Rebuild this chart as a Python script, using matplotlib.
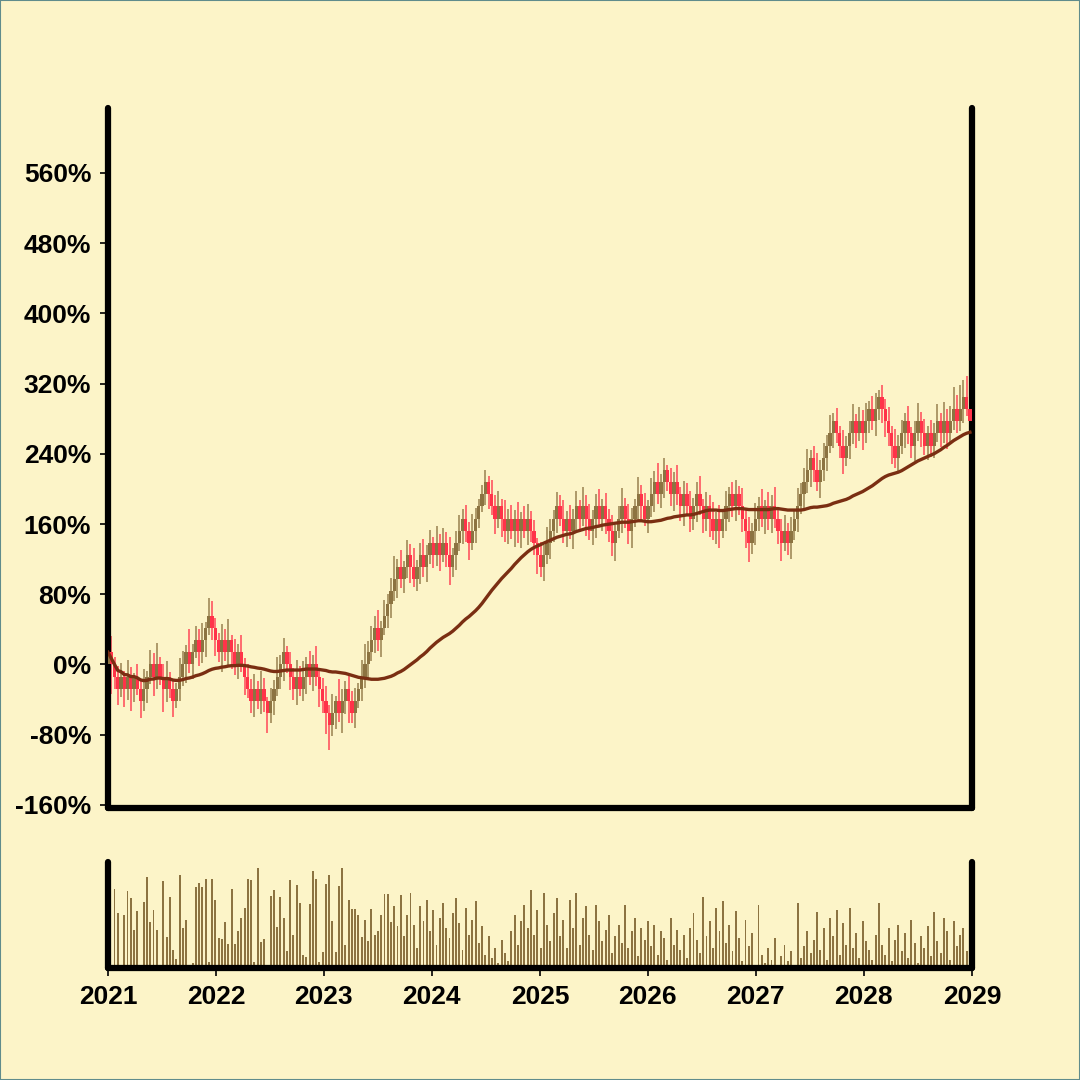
import matplotlib
matplotlib.use("Agg")
import matplotlib.pyplot as plt
import matplotlib.dates as mdates
from matplotlib.patches import Rectangle
import numpy as np
import pandas as pd

# ---------------------------------------------------------------------------
# DATA
# ---------------------------------------------------------------------------
BRICK = 13.85          # height of one candle body, in %
MA_WINDOW = 50

# close level of each candle, counted in bodies above the start
levels = [
    1, 0, -1, -2, -1, -2, -1, -2, -1, -2, -3, -2, -1, 0, -1, 0, -1, -2, -1, -2,
    -3, -2, -1, 0, 1, 0, 1, 2, 1, 2, 3, 4, 3, 2, 1, 2, 1, 2, 1, 0,
    1, 0, -1, -2, -3, -2, -3, -2, -3, -4, -3, -2, -1, 0, 1, 0, -1, -2, -1, -2,
    -1, 0, -1, 0, -1, -2, -3, -4, -5, -4, -3, -4, -3, -2, -3, -4, -3, -2, -1, 0,
    1, 2, 3, 2, 3, 4, 5, 6, 7, 8, 7, 8, 9, 8, 7, 8, 9, 8, 9, 10,
    9, 10, 9, 10, 9, 8, 9, 10, 11, 12, 11, 10, 11, 12, 13, 14, 15, 14, 13, 12,
    13, 12, 11, 12, 11, 12, 11, 12, 11, 12, 11, 10, 9, 8, 9, 10, 11, 12, 13, 12,
    11, 12, 11, 12, 13, 12, 13, 12, 11, 12, 13, 12, 13, 12, 11, 10, 11, 12, 13, 12,
    11, 12, 13, 14, 13, 12, 13, 14, 15, 14, 15, 16, 15, 14, 15, 14, 13, 14, 13, 12,
    13, 14, 13, 12, 13, 12, 11, 12, 11, 12, 13, 14, 13, 14, 13, 12, 11, 10, 11, 12,
    13, 12, 13, 12, 13, 12, 11, 10, 11, 10, 11, 12, 13, 14, 15, 16, 17, 16, 15, 16,
    17, 18, 19, 20, 19, 18, 17, 18, 19, 20, 19, 20, 19, 20, 21, 20, 21, 22, 21, 20,
    19, 18, 17, 18, 19, 20, 19, 18, 19, 20, 19, 18, 19, 18, 19, 20, 19, 20, 19, 20,
    21, 20, 21, 22, 21, 20,
]

# wick length beyond the body, in bodies
upper_wick = [
    0.4, 1.3, 0.6, 0.9, 1.1, 0.5, 1.4, 0.8, 0.3, 1.0, 0.7, 1.6, 0.5, 1.2, 0.9, 1.8, 0.6, 1.0, 1.3, 0.4,
    0.8, 0.5, 1.5, 1.1, 0.6, 1.9, 0.7, 1.2, 0.9, 1.4, 0.5, 1.5, 1.2, 0.8, 0.6, 1.3, 0.9, 1.7, 0.4, 1.1,
    0.7, 1.4, 0.5, 1.0, 0.8, 1.2, 0.6, 1.5, 0.9, 0.3, 1.1, 0.7, 1.6, 0.8, 1.2, 0.5, 1.0, 0.7, 1.4, 0.9,
    1.3, 0.6, 1.1, 0.8, 1.5, 0.5, 0.9, 1.2, 0.7, 1.6, 0.4, 1.8, 1.0, 0.6, 1.3, 0.8, 1.1, 0.5, 1.4, 1.7,
    0.9, 1.2, 1.0, 1.5, 0.6, 1.3, 0.8, 1.1, 1.9, 0.7, 1.4, 0.5, 1.2, 0.9, 1.6, 0.6, 1.0, 1.3, 0.8, 1.1,
    0.5, 1.4, 0.7, 1.2, 0.9, 1.5, 0.6, 1.0, 1.3, 0.8, 1.1, 0.7, 1.4, 0.9, 0.6, 0.8, 1.0, 0.5, 1.2, 0.9,
    1.3, 0.6, 1.5, 0.8, 1.1, 0.7, 1.4, 0.5, 1.0, 1.2, 0.6, 0.9, 0.4, 1.1, 0.8, 1.3, 1.0, 0.7, 1.2, 0.9,
    1.5, 0.6, 1.1, 0.8, 1.3, 0.5, 1.6, 0.9, 1.2, 0.7, 1.0, 1.4, 0.6, 1.1, 0.8, 1.3, 0.5, 1.0, 1.5, 0.7,
    1.2, 0.9, 0.6, 1.4, 0.8, 1.1, 0.5, 1.3, 0.9, 1.6, 0.7, 1.0, 0.4, 1.2, 0.8, 1.4, 0.6, 1.1, 0.9, 1.3,
    0.7, 1.0, 1.5, 0.6, 1.2, 0.9, 1.4, 0.5, 1.1, 0.8, 1.3, 0.6, 1.0, 1.2, 0.7, 1.5, 0.9, 1.1, 0.6, 1.3,
    0.8, 1.4, 0.5, 1.2, 0.9, 1.6, 0.7, 1.0, 1.3, 0.6, 1.1, 0.8, 1.5, 0.9, 1.2, 1.7, 0.6, 1.0, 1.4, 0.8,
    1.2, 0.9, 1.5, 0.7, 1.1, 0.6, 1.3, 0.8, 1.0, 1.4, 0.6, 1.2, 0.9, 1.5, 0.7, 1.1, 1.3, 0.6, 1.0, 0.8,
    1.2, 0.6, 1.4, 0.9, 1.1, 0.7, 1.3, 0.5, 1.0, 1.5, 0.8, 1.2, 0.6, 1.1, 0.9, 1.4, 0.7, 1.6, 1.0, 1.3,
    1.8, 1.2, 2.0, 1.4, 1.7, 0.9,
]
lower_wick = [
    0.6, 2.4, 1.0, 1.3, 0.7, 1.5, 0.9, 1.8, 1.1, 0.5, 1.4, 0.8, 1.2, 0.6, 1.6, 1.0, 0.7, 1.9, 1.1, 0.8,
    1.3, 0.6, 1.0, 0.8, 1.5, 0.7, 1.2, 0.5, 1.1, 0.9, 1.4, 0.6, 1.0, 1.3, 0.8, 1.6, 0.7, 1.1, 1.4, 0.9,
    1.2, 0.6, 1.5, 0.8, 1.0, 1.3, 0.7, 1.1, 0.9, 1.6, 0.8, 1.2, 0.6, 1.0, 1.4, 0.7, 1.1, 0.9, 1.3, 0.6,
    1.0, 1.4, 0.7, 1.2, 0.8, 1.5, 1.0, 1.7, 2.0, 0.9, 1.3, 0.7, 1.6, 1.1, 1.8, 0.8, 1.2, 0.6, 1.0, 0.9,
    1.3, 0.7, 1.1, 0.9, 1.4, 0.6, 1.0, 1.2, 0.8, 1.5, 0.7, 1.1, 0.9, 1.3, 0.6, 1.0, 1.4, 0.8, 1.2, 0.7,
    1.1, 0.9, 1.3, 0.6, 1.0, 1.5, 0.8, 1.2, 0.7, 1.1, 0.9, 1.4, 0.6, 1.0, 0.8, 0.5, 0.9, 1.2, 0.7, 1.3,
    0.8, 1.5, 0.9, 1.1, 0.7, 1.3, 1.0, 1.4, 0.6, 1.2, 0.9, 1.0, 1.6, 0.8, 1.1, 0.7, 1.3, 0.9, 1.2, 0.6,
    1.0, 1.3, 0.7, 1.5, 0.9, 1.1, 0.6, 1.4, 0.8, 1.2, 1.6, 0.7, 1.0, 1.3, 0.9, 1.1, 1.5, 0.6, 1.2, 0.8,
    1.1, 1.4, 0.7, 1.0, 1.3, 0.6, 1.2, 0.9, 1.5, 0.8, 1.1, 1.3, 0.7, 1.0, 1.4, 0.9, 1.2, 1.6, 0.8, 1.1,
    0.9, 1.3, 0.7, 1.2, 1.0, 1.5, 0.8, 1.1, 1.4, 0.6, 1.0, 1.3, 0.9, 1.2, 0.7, 1.1, 1.4, 1.6, 0.9, 1.2,
    1.0, 0.7, 1.3, 0.9, 1.2, 0.8, 1.1, 1.5, 0.7, 1.0, 1.3, 0.8, 1.1, 0.6, 1.2, 0.9, 1.4, 1.0, 0.7, 1.3,
    0.9, 1.1, 0.6, 1.2, 0.8, 1.0, 1.3, 0.7, 1.1, 0.9, 1.2, 0.6, 1.4, 0.8, 1.0, 0.7, 1.2, 0.9, 1.1, 1.3,
    1.0, 1.5, 0.8, 1.1, 0.7, 1.2, 0.9, 1.0, 1.3, 0.6, 1.1, 0.8, 1.2, 0.9, 1.0, 0.7, 1.1, 0.8, 1.3, 0.9,
    0.7, 1.0, 0.8, 1.1, 0.6, 0.9,
]

# traded volume (arbitrary units, no scale shown)
volume = [
    150, 10, 237, 165, 3, 159, 231, 210, 115, 170, 0, 199, 273, 137, 175, 115, 0, 261, 92, 213,
    54, 27, 279, 121, 143, 0, 14, 243, 255, 243, 267, 18, 267, 204, 89, 88, 138, 72, 236, 72,
    112, 150, 179, 268, 264, 18, 299, 78, 87, 0, 217, 233, 124, 214, 150, 51, 263, 100, 249, 194,
    39, 34, 193, 290, 268, 19, 47, 252, 278, 142, 48, 245, 300, 70, 204, 177, 177, 160, 92, 143,
    80, 177, 98, 112, 160, 221, 221, 139, 187, 127, 219, 95, 160, 225, 130, 60, 185, 140, 205, 110,
    175, 70, 150, 195, 120, 90, 165, 210, 135, 55, 180, 100, 145, 200, 75, 125, 40, 95, 30, 60,
    15, 85, 45, 20, 110, 160, 70, 140, 190, 120, 234, 100, 175, 60, 225, 130, 80, 165, 210, 95,
    145, 60, 204, 120, 225, 70, 150, 185, 100, 55, 190, 140, 80, 115, 160, 45, 95, 130, 75, 190,
    60, 110, 150, 35, 120, 85, 140, 65, 130, 40, 110, 90, 25, 150, 70, 115, 55, 100, 30, 120,
    165, 85, 45, 213, 95, 140, 60, 180, 110, 200, 75, 130, 50, 170, 90, 20, 145, 65, 105, 10,
    190, 40, 15, 60, 25, 90, 10, 35, 70, 20, 50, 8, 195, 30, 65, 110, 45, 85, 168, 55,
    120, 25, 150, 95, 175, 40, 135, 70, 180, 60, 105, 30, 140, 80, 55, 25, 100, 195, 70, 40,
    120, 20, 85, 130, 50, 105, 30, 145, 75, 15, 95, 60, 125, 35, 168, 80, 45, 150, 110, 25,
    140, 65, 100, 120, 50, 90,
]

years = list(range(2021, 2030))
y_ticks = [-160, -80, 0, 80, 160, 240, 320, 400, 480, 560]

# ---------------------------------------------------------------------------
# PREPARATION
# ---------------------------------------------------------------------------
BG = "#fcf4c8"
UP = "#8c7341"
DOWN = "#ff3349"
MA_COLOR = "#7a2e12"

dates = pd.date_range("2021-01-01", periods=len(levels), freq="11D")
x = mdates.date2num(dates)

close = np.array(levels) * BRICK
open_ = np.concatenate([[0.0], close[:-1]])
top = np.maximum(open_, close)
bot = np.minimum(open_, close)
high = top + np.array(upper_wick) * BRICK
low = bot - np.array(lower_wick) * BRICK
colors = np.where(close >= open_, UP, DOWN)
ma = pd.Series(close).rolling(MA_WINDOW, min_periods=1).mean()

x_min = mdates.date2num(pd.Timestamp("2021-01-01"))
x_max = mdates.date2num(pd.Timestamp("2029-01-01"))

plt.rcParams["font.family"] = ["Liberation Sans", "DejaVu Sans"]
plt.rcParams["font.weight"] = "bold"

fig = plt.figure(figsize=(10.8, 10.8), dpi=100, facecolor=BG)
fig.patches.append(Rectangle((0, 0), 1, 1, transform=fig.transFigure,
                             fill=False, edgecolor="#5f8c8c", linewidth=1.5))

ax = fig.add_axes([0.1, 0.252, 0.8, 0.648])
ax_v = fig.add_axes([0.1, 0.1037, 0.8, 0.0982])

# ---------------------------------------------------------------------------
# PRICE PANEL
# ---------------------------------------------------------------------------
ax.set_facecolor(BG)
ax.vlines(x, low, high, colors=colors, linewidth=1.4, alpha=0.7, zorder=2)
# bodies fill the whole slot, so neighbours at the same level touch
ax.bar(x, top - bot, bottom=bot, width=11, color=colors, linewidth=0, zorder=3)
ax.plot(x, ma, color=MA_COLOR, linewidth=2.4, zorder=4)

ax.set_xlim(x_min, x_max)
ax.set_ylim(-163.4, 634)
ax.set_yticks(y_ticks)
ax.set_yticklabels([f"{v}%" for v in y_ticks])
ax.tick_params(axis="y", length=6, width=1.2, pad=6, labelsize=19)
ax.tick_params(axis="x", bottom=False, labelbottom=False)

# ---------------------------------------------------------------------------
# VOLUME PANEL
# ---------------------------------------------------------------------------
ax_v.set_facecolor(BG)
ax_v.bar(x, volume, width=6.5, color=UP, linewidth=0)
ax_v.set_xlim(x_min, x_max)
ax_v.set_ylim(0, 318)
ax_v.set_yticks([])
ax_v.set_xticks([mdates.date2num(pd.Timestamp(f"{y}-01-01")) for y in years])
ax_v.set_xticklabels([str(y) for y in years])
ax_v.tick_params(axis="x", length=6, width=1.2, pad=6, labelsize=19)

for a in (ax, ax_v):
    a.spines["top"].set_visible(False)
    for side in ("left", "right", "bottom"):
        a.spines[side].set_linewidth(4.5)
        a.spines[side].set_capstyle("round")

fig.savefig("out.png", dpi=100, facecolor=BG)
